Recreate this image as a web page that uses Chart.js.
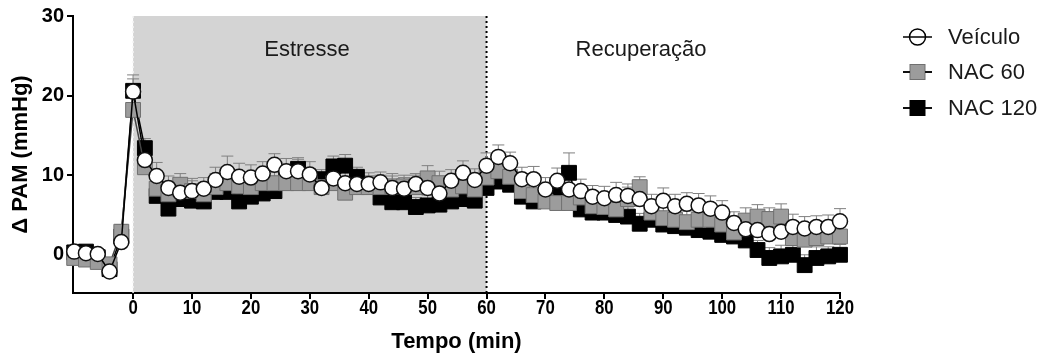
<!DOCTYPE html>
<html><head><meta charset="utf-8">
<script src="https://cdn.jsdelivr.net/npm/chart.js@4.4.1/dist/chart.umd.min.js"></script>
<style>html,body{margin:0;padding:0;background:#fff;}canvas{display:block;}</style>
</head><body>
<canvas id="c" width="1043" height="362"></canvas>
<script>
const times = [-10,-8,-6,-4,-2,0,
 2,4,6,8,10,12,14,16,18,20,
 22,24,26,28,30,32,34,36,38,40,
 42,44,46,48,50,52,54,56,58,60,
 62,64,66,68,70,72,74,76,78,80,
 82,84,86,88,90,92,94,96,98,100,
 102,104,106,108,110,112,114,116,118,120];

const veiculo = [0.4,0.2,0.1,-2.1,1.6,20.5,
 11.9,9.9,8.4,7.8,8.0,8.3,9.4,10.4,9.8,9.7,
 10.2,11.3,10.5,10.5,10.1,8.4,9.6,9.0,8.9,8.9,
 9.1,8.4,8.3,8.9,8.4,7.7,9.3,10.3,9.4,11.2,
 12.3,11.5,9.5,9.5,8.2,9.3,8.2,8.0,7.3,7.1,
 7.5,7.4,7.0,6.1,6.8,6.1,6.4,6.2,5.8,5.3,
 4.0,3.2,3.1,2.6,2.9,3.5,3.3,3.5,3.5,4.2];

const nac60 = [-0.4,-0.6,-0.9,-1.2,2.9,18.2,
 11.0,8.3,7.6,8.8,8.0,7.6,8.5,9.0,8.6,8.5,
 9.0,9.0,9.0,9.0,9.0,8.5,9.0,7.8,8.5,8.5,
 8.5,8.6,8.6,8.5,9.6,9.0,8.2,8.6,8.2,9.7,
 10.5,9.8,8.0,7.5,6.7,6.5,6.5,7.2,6.1,6.0,
 5.7,7.0,8.5,5.3,4.6,4.4,4.1,4.4,4.4,3.8,
 2.8,4.3,4.8,4.5,4.8,2.1,1.9,2.1,2.3,2.3];

const nac120 = [0.3,0.4,-0.3,-1.8,2.3,20.6,
 13.4,7.4,5.8,7.0,6.8,6.7,7.9,7.9,6.7,7.3,
 7.7,8.0,9.5,10.8,9.5,9.5,11.1,11.2,9.8,8.6,
 7.2,6.6,6.6,6.0,6.2,6.3,6.7,7.0,6.8,8.4,
 9.2,8.8,7.3,6.7,7.2,7.8,10.3,5.7,5.3,5.3,
 5.0,4.8,3.9,4.4,3.8,3.6,3.4,3.1,2.9,2.5,
 2.3,1.8,0.6,-0.4,-0.2,0.0,-1.3,-0.4,-0.2,0.0];

const errVeiculo = [0.7,0.6,0.6,0.7,1.2,1.6,
 1.5,1.7,1.5,1.4,1.3,1.4,1.6,2.0,1.7,1.6,
 1.5,1.4,1.6,1.5,1.6,1.4,1.5,1.4,1.3,1.4,
 1.3,1.5,1.4,1.3,1.4,1.3,1.4,1.5,1.4,1.6,
 1.5,1.4,1.5,1.6,1.5,1.6,1.4,1.5,1.4,1.5,
 1.6,1.5,1.4,1.5,1.6,1.5,1.4,1.5,1.6,1.5,
 1.4,1.5,1.6,1.4,1.5,1.6,1.5,1.4,1.5,1.6];

const errNac60 = [0.6,0.5,0.6,0.7,0.9,1.8,
 1.4,1.6,1.5,1.4,1.6,1.5,1.7,1.6,1.5,1.4,
 1.5,1.6,1.5,1.4,1.3,1.5,1.4,1.5,1.6,1.4,
 1.5,1.6,1.4,1.5,1.6,1.5,1.4,1.6,1.5,1.4,
 1.5,1.6,1.5,1.4,1.5,1.6,1.5,1.4,1.6,1.5,
 1.4,1.5,1.3,1.5,1.6,1.5,1.4,1.5,1.6,1.5,
 1.4,1.6,1.5,1.4,1.6,1.5,1.4,1.5,1.6,1.5];

const errNac120 = [0.6,0.7,0.6,0.8,1.4,2.0,
 1.2,1.3,1.2,1.4,1.3,1.2,1.4,1.3,1.2,1.3,
 1.4,1.3,1.2,1.4,1.3,1.2,1.3,1.4,1.2,1.3,
 1.2,1.3,1.4,1.2,1.3,1.2,1.4,1.3,1.2,1.3,
 1.4,1.3,1.2,1.3,1.4,1.2,2.5,1.3,1.2,1.4,
 1.3,1.2,1.3,1.4,1.2,1.3,1.4,1.2,1.3,1.2,
 1.4,1.3,1.2,1.3,1.4,1.2,1.3,1.4,1.2,1.3];

const xTicks = [0,10,20,30,40,50,60,70,80,90,100,110,120];
const yTicks = [0,10,20,30];
const phases = [{from:0,to:60,label:'Estresse'},{from:60,to:120,label:'Recuperação'}];

const FONT = "'Liberation Sans', Arial, Helvetica, sans-serif";

function pts(vals){ return times.map((t,i)=>({x:t,y:vals[i]})); }

const bgPlugin = {
  id:'bg',
  beforeDraw(chart){
    const {ctx, chartArea:a, scales:{x}} = chart;
    const x0 = x.getPixelForValue(phases[0].from), x1 = x.getPixelForValue(phases[0].to);
    ctx.save();
    ctx.fillStyle = '#d4d4d4';
    ctx.fillRect(x0, a.top, x1-x0, a.bottom-a.top);
    ctx.restore();
  },
  beforeDatasetsDraw(chart){
    const {ctx, chartArea:a, scales:{x}} = chart;
    const x0 = x.getPixelForValue(phases[0].from), x1 = x.getPixelForValue(phases[0].to);
    ctx.save();
    ctx.lineWidth = 2;
    ctx.setLineDash([2,3]);
    ctx.strokeStyle = '#000';
    ctx.beginPath(); ctx.moveTo(x1, a.top); ctx.lineTo(x1, a.bottom); ctx.stroke();
    ctx.strokeStyle = '#f4f4f4'; ctx.lineWidth = 1.5;
    ctx.beginPath(); ctx.moveTo(x0, a.top); ctx.lineTo(x0, a.bottom); ctx.stroke();
    ctx.setLineDash([]);
    ctx.fillStyle = '#1a1a1a';
    ctx.font = '22px ' + FONT;
    ctx.textAlign = 'center'; ctx.textBaseline = 'middle';
    ctx.fillText(phases[0].label, 307, 50);
    ctx.fillText(phases[1].label, 641, 50);
    // error bars (upper SEM)
    const y = chart.scales.y;
    ctx.strokeStyle = '#808080'; ctx.lineWidth = 1;
    for (let d = chart.data.datasets.length-1; d >= 0; d--) {
      const ds = chart.data.datasets[d];
      const meta = chart.getDatasetMeta(d);
      ds.errors.forEach((e,i)=>{
        const p = meta.data[i];
        const yv = ds.data[i].y;
        const yt = y.getPixelForValue(yv + e);
        ctx.beginPath();
        ctx.moveTo(p.x, p.y); ctx.lineTo(p.x, yt);
        ctx.moveTo(p.x-6, yt); ctx.lineTo(p.x+6, yt);
        ctx.stroke();
      });
    }
    ctx.restore();
  }
};

const xLabelPlugin = {
  id:'xLabels',
  afterDraw(chart){
    const {ctx, scales:{x}} = chart;
    ctx.save();
    ctx.fillStyle = '#000';
    ctx.font = 'bold 20px ' + FONT;
    ctx.textAlign = 'center'; ctx.textBaseline = 'middle';
    xTicks.forEach(v=>{
      ctx.save();
      ctx.translate(x.getPixelForValue(v), 308);
      ctx.scale(0.84, 1);
      ctx.fillText(String(v), 0, 0);
      ctx.restore();
    });
    ctx.restore();
  }
};

const legendPlugin = {
  id:'customLegend',
  afterDraw(chart){
    const ctx = chart.ctx;
    const rows = [37, 72, 108];
    ctx.save();
    chart.data.datasets.forEach((ds,i)=>{
      const yy = rows[i];
      ctx.strokeStyle = '#000'; ctx.lineWidth = 1.5;
      ctx.beginPath(); ctx.moveTo(903, yy); ctx.lineTo(932, yy); ctx.stroke();
      ctx.lineWidth = 1.5;
      if (ds.pointStyle === 'circle') {
        ctx.fillStyle = '#fff'; ctx.strokeStyle = '#000';
        ctx.beginPath(); ctx.arc(917.5, yy, 8, 0, Math.PI*2); ctx.fill(); ctx.stroke();
        ctx.beginPath(); ctx.moveTo(909.5, yy); ctx.lineTo(925.5, yy); ctx.stroke();
      } else {
        ctx.fillStyle = ds.pointBackgroundColor;
        ctx.fillRect(917.5-7.5, yy-7.5, 15, 15);
        ctx.strokeStyle = ds.pointBorderColor; ctx.lineWidth = 1;
        ctx.strokeRect(917.5-7.5, yy-7.5, 15, 15);
        ctx.strokeStyle = '#000'; ctx.lineWidth = 1.5;
        ctx.beginPath(); ctx.moveTo(903, yy); ctx.lineTo(910, yy); ctx.moveTo(925, yy); ctx.lineTo(932, yy); ctx.stroke();
      }
      ctx.fillStyle = '#1a1a1a';
      ctx.font = '22px ' + FONT;
      ctx.textAlign = 'left'; ctx.textBaseline = 'middle';
      ctx.fillText(ds.label, 948, yy+1);
    });
    ctx.restore();
  }
};

new Chart(document.getElementById('c'), {
  type:'line',
  data:{datasets:[
    {label:'Veículo', data:pts(veiculo), errors:errVeiculo, borderColor:'#000', borderWidth:1.5,
     pointStyle:'circle', pointRadius:7.5, pointBackgroundColor:'#fff', pointBorderColor:'#111', pointBorderWidth:1.5, tension:0, clip:false},
    {label:'NAC 60', data:pts(nac60), errors:errNac60, borderColor:'#444', borderWidth:1.5,
     pointStyle:'rect', pointRadius:10.5, pointBackgroundColor:'#9c9c9c', pointBorderColor:'#707070', pointBorderWidth:1, tension:0, clip:false},
    {label:'NAC 120', data:pts(nac120), errors:errNac120, borderColor:'#000', borderWidth:1.5,
     pointStyle:'rect', pointRadius:10.5, pointBackgroundColor:'#000', pointBorderColor:'#000', pointBorderWidth:1, tension:0, clip:false}
  ]},
  options:{
    responsive:false, animation:false, devicePixelRatio:1, events:[],
    layout:{padding:{top:16,right:203,left:0,bottom:0}},
    plugins:{legend:{display:false}, tooltip:{enabled:false}},
    scales:{
      x:{type:'linear', min:-10.2, max:120,
        afterBuildTicks:s=>{s.ticks = xTicks.map(v=>({value:v}));},
        afterFit:s=>{s.height = 69;},
        grid:{drawOnChartArea:false, drawTicks:true, tickLength:6, color:'#000', lineWidth:2},
        border:{display:true, color:'#000', width:2},
        ticks:{display:false},
        title:{display:true, text:'Tempo (min)', color:'#000', font:{family:FONT, size:22, weight:'bold'}, padding:{top:0,bottom:7}}
      },
      y:{type:'linear', min:-4.8, max:30,
        afterBuildTicks:s=>{s.ticks = yTicks.map(v=>({value:v}));},
        afterFit:s=>{s.width = 73;},
        grid:{drawOnChartArea:false, drawTicks:true, tickLength:6, color:'#000', lineWidth:2},
        border:{display:true, color:'#000', width:2},
        ticks:{color:'#000', font:{family:FONT, size:20, weight:'bold'}, padding:3},
        title:{display:true, text:'Δ PAM (mmHg)', color:'#000', font:{family:FONT, size:22, weight:'bold'}, padding:{top:8,bottom:0}}
      }
    }
  },
  plugins:[bgPlugin, xLabelPlugin, legendPlugin]
});
</script>
</body></html>
